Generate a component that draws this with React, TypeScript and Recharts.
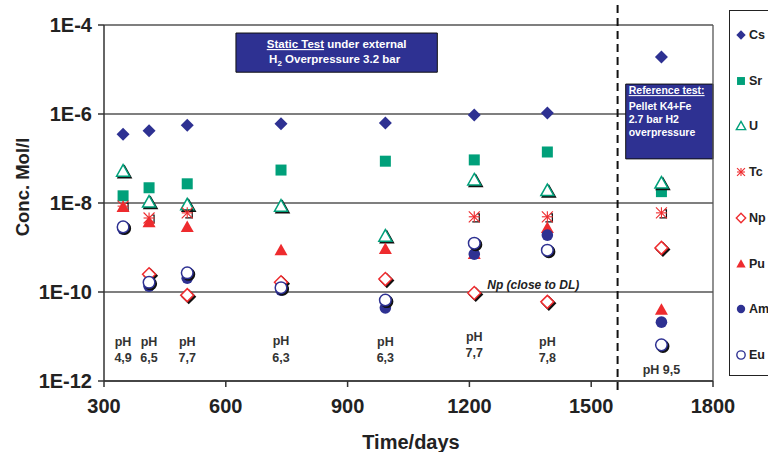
import {
  ScatterChart,
  Scatter,
  XAxis,
  YAxis,
  CartesianGrid,
  ReferenceLine,
  ReferenceArea,
  ReferenceDot,
} from "recharts";

const FONT = "'Liberation Sans', Arial, sans-serif";
const NAVY = "#2e3192";
const TEAL = "#00a07a";
const RED = "#ee2b2e";

// time in days for each sampling
const days = [347, 411, 505, 736, 993, 1212, 1392, 1673];

// concentrations in Mol/l (null = not plotted)
const cs = [3.5e-7, 4.2e-7, 5.6e-7, 6.0e-7, 6.3e-7, 9.5e-7, 1.05e-6, 1.9e-5];
const sr = [1.45e-8, 2.2e-8, 2.7e-8, 5.5e-8, 8.7e-8, 9.3e-8, 1.4e-7, 1.8e-8];
const u = [5.2e-8, 1.05e-8, 9.1e-9, 8.5e-9, 1.8e-9, 3.3e-8, 1.9e-8, 2.8e-8];
const tc = [8.5e-9, 4.6e-9, 6.0e-9, null, null, 4.9e-9, 4.9e-9, 6.0e-9];
const np = [null, 2.5e-10, 8.5e-11, 1.65e-10, 1.95e-10, 9.5e-11, 6.0e-11, 9.8e-10];
const pu = [8.1e-9, 3.7e-9, 2.9e-9, 8.7e-10, 9.3e-10, 7.1e-10, 2.75e-9, 4.0e-11];
const am = [2.6e-9, 1.35e-10, 2.05e-10, 1.1e-10, 4.4e-11, 7.1e-10, 1.9e-9, 2.1e-11];
const eu = [2.9e-9, 1.65e-10, 2.7e-10, 1.25e-10, 6.6e-11, 1.25e-9, 8.7e-10, 6.5e-12];

// pH notes: [day, conc at first text baseline, text lines]
const phNotes: [number, number, string[]][] = [
  [347, 6.2e-12, ["pH", "4,9"]],
  [411, 6.2e-12, ["pH", "6,5"]],
  [505, 6.2e-12, ["pH", "7,7"]],
  [736, 6.4e-12, ["pH", "6,3"]],
  [993, 6.2e-12, ["pH", "6,3"]],
  [1212, 8.0e-12, ["pH", "7,7"]],
  [1392, 6.2e-12, ["pH", "7,8"]],
  [1673, 1.45e-12, ["pH 9,5"]],
];

const xTicks = [300, 600, 900, 1200, 1500, 1800];
const yTicks = [1e-12, 1e-10, 1e-8, 1e-6, 1e-4];

type Kind = "diamond" | "square" | "triangle" | "star" | "circle";

const series: { name: string; values: (number | null)[]; kind: Kind; color: string; open: boolean }[] = [
  { name: "Cs", values: cs, kind: "diamond", color: NAVY, open: false },
  { name: "Sr", values: sr, kind: "square", color: TEAL, open: false },
  { name: "U", values: u, kind: "triangle", color: TEAL, open: true },
  { name: "Tc", values: tc, kind: "star", color: RED, open: true },
  { name: "Np", values: np, kind: "diamond", color: RED, open: true },
  { name: "Pu", values: pu, kind: "triangle", color: RED, open: false },
  { name: "Am", values: am, kind: "circle", color: NAVY, open: false },
  { name: "Eu", values: eu, kind: "circle", color: NAVY, open: true },
];

const shapeEl = (kind: Kind, cx: number, cy: number, fill: string, stroke: string, s = 1) => {
  const sw = 1.5 * Math.min(1, s + 0.2);
  if (kind === "diamond") {
    const r = 6.5 * s;
    return <polygon points={`${cx},${cy - r} ${cx + r},${cy} ${cx},${cy + r} ${cx - r},${cy}`} fill={fill} stroke={stroke} strokeWidth={sw} />;
  }
  if (kind === "square") {
    const h = 5.5 * s;
    return <rect x={cx - h} y={cy - h} width={2 * h} height={2 * h} fill={fill} />;
  }
  if (kind === "triangle") {
    return (
      <polygon
        points={`${cx},${cy - 6.5 * s} ${cx + 6.5 * s},${cy + 5 * s} ${cx - 6.5 * s},${cy + 5 * s}`}
        fill={fill}
        stroke={stroke}
        strokeWidth={sw}
      />
    );
  }
  if (kind === "star") {
    const r = 5.5 * s;
    return (
      <g stroke={stroke} strokeWidth={1.1}>
        <line x1={cx - r} y1={cy - r} x2={cx + r} y2={cy + r} />
        <line x1={cx + r} y1={cy - r} x2={cx - r} y2={cy + r} />
        <line x1={cx} y1={cy - r} x2={cx} y2={cy + r} />
        <line x1={cx - r} y1={cy} x2={cx + r} y2={cy} />
      </g>
    );
  }
  return <circle cx={cx} cy={cy} r={5.8 * s} fill={fill} stroke={stroke} strokeWidth={sw} />;
};

const makeShape = (kind: Kind, color: string, open: boolean, s = 1, shadow = true) => (props: any) => {
  const { cx, cy } = props;
  if (cx == null || cy == null) return <g />;
  const fill = open ? "#fff" : color;
  const stroke = open ? color : "none";
  return (
    <g>
      {open && shadow && kind !== "star" && shapeEl(kind, cx + 1.5, cy + 1.5, "#111", "#111", s)}
      {open && shadow && kind === "star" && (
        <path d={`M${cx + 3},${cy - 3} h2 v${8} h-7`} fill="none" stroke="#111" strokeWidth={1.2} />
      )}
      {shapeEl(kind, cx, cy, fill, stroke, s)}
    </g>
  );
};

const toPoints = (values: (number | null)[]) =>
  days
    .map((d, i) => ({ x: d, y: values[i] }))
    .filter((p) => p.y != null);

const PhLabel = (lines: string[]) => (props: any) => {
  const vb = props.viewBox || {};
  const x = vb.x + (vb.width || 0) / 2;
  const y = vb.y + (vb.height || 0) / 2;
  return (
    <text x={x} y={y} textAnchor="middle" fontFamily={FONT} fontWeight="bold" fontSize={12.5} fill="#333">
      {lines.map((l, i) => (
        <tspan key={i} x={x} dy={i === 0 ? 0 : 16.5}>
          {l}
        </tspan>
      ))}
    </text>
  );
};

const StaticBoxLabel = (props: any) => {
  const { x, y, width } = props.viewBox;
  const cx = x + width / 2;
  return (
    <text x={cx} y={y + 15} textAnchor="middle" fontFamily={FONT} fontWeight="bold" fontSize={11.5} fill="#fff">
      <tspan textDecoration="underline">Static Test</tspan>
      <tspan> under external</tspan>
      <tspan x={cx - 2} dy={15}>H</tspan>
      <tspan fontSize={8} dy={3}>2</tspan>
      <tspan dy={-3}>{"\u00a0Overpressure 3.2 bar"}</tspan>
    </text>
  );
};

const RefBoxLabel = (props: any) => {
  const { x, y } = props.viewBox;
  const lx = x + 3;
  return (
    <text x={lx} y={y + 10} fontFamily={FONT} fontWeight="bold" fontSize={10.5} fill="#fff">
      <tspan textDecoration="underline">Reference test:</tspan>
      <tspan x={lx} dy={16}>Pellet K4+Fe</tspan>
      <tspan x={lx} dy={13}>2.7 bar H2</tspan>
      <tspan x={lx} dy={13}>overpressure</tspan>
    </text>
  );
};

const Legend = () => (
  <div
    style={{
      position: "absolute",
      left: 729,
      top: 10,
      width: 60,
      height: 364,
      border: "1px solid #222",
      background: "#fff",
      fontFamily: FONT,
      fontWeight: "bold",
      fontSize: 12.5,
      color: "#222",
    }}
  >
    {series.map((s, i) => (
      <div key={s.name} style={{ position: "absolute", left: 5, top: 17 + i * 45.7, display: "flex", alignItems: "center" }}>
        <svg width={12} height={14}>
          {makeShape(s.kind, s.color, s.open, 0.72, false)({ cx: 6, cy: 7 })}
        </svg>
        <span style={{ marginLeft: 2 }}>{s.name}</span>
      </div>
    ))}
  </div>
);

const App = () => {
  return (
    <div style={{ position: "absolute", left: 0, top: 0, width: 768, height: 452, background: "#fff", overflow: "hidden" }}>
      <ScatterChart width={768} height={452} margin={{ top: 25, right: 55, left: 24, bottom: 31 }}>
        <CartesianGrid vertical={false} stroke="#555" strokeWidth={1.3} />
        <XAxis
          type="number"
          dataKey="x"
          domain={[300, 1800]}
          ticks={xTicks}
          height={40}
          tickSize={6}
          tickMargin={12}
          stroke="#333"
          strokeWidth={1.5}
          tick={{ fontFamily: FONT, fontWeight: "bold", fontSize: 20, fill: "#222" }}
          allowDataOverflow
          label={() => (
            <text x={411} y={449} textAnchor="middle" fontFamily={FONT} fontWeight="bold" fontSize={20} fill="#222">
              Time/days
            </text>
          )}
        />
        <YAxis
          type="number"
          dataKey="y"
          scale="log"
          domain={[1e-12, 1e-4]}
          ticks={yTicks}
          allowDataOverflow
          width={80}
          tickSize={6}
          tickMargin={6}
          stroke="#333"
          strokeWidth={1.5}
          tickFormatter={(v: number) => `1E${Math.round(Math.log10(v))}`}
          tick={{ fontFamily: FONT, fontWeight: "bold", fontSize: 20, fill: "#222" }}
          label={() => (
            <text
              x={29}
              y={187}
              transform="rotate(-90 29 187)"
              textAnchor="middle"
              fontFamily={FONT}
              fontWeight="bold"
              fontSize={18.5}
              fill="#222"
            >
              Conc. Mol/l
            </text>
          )}
        />
        <ReferenceLine x={1800} stroke="#555" strokeWidth={1.3} />
        <ReferenceArea
          x1={625}
          x2={1121}
          y1={8.7e-6}
          y2={6.6e-5}
          fill={NAVY}
          fillOpacity={1}
          stroke="#111"
          strokeWidth={1}
          label={StaticBoxLabel}
        />
        <ReferenceArea
          x1={1585}
          x2={1800}
          y1={9.8e-8}
          y2={4.7e-6}
          fill={NAVY}
          fillOpacity={1}
          stroke="#111"
          strokeWidth={1}
          label={RefBoxLabel}
        />
        <ReferenceLine
          segment={[
            { x: 1565, y: 2.8e-4 },
            { x: 1565, y: 4.9e-13 },
          ]}
          ifOverflow="visible"
          stroke="#111"
          strokeWidth={2}
          strokeDasharray="8 5"
        />
        {phNotes.map(([d, c, lines], i) => (
          <ReferenceDot key={i} x={d} y={c} r={0} fill="none" stroke="none" label={PhLabel(lines)} />
        ))}
        <ReferenceDot
          x={1244}
          y={1.17e-10}
          r={0}
          fill="none"
          stroke="none"
          label={(p: any) => (
            <text
              x={p.viewBox.x}
              y={p.viewBox.y}
              fontFamily={FONT}
              fontWeight="bold"
              fontStyle="italic"
              fontSize={12}
              fill="#222"
            >
              Np (close to DL)
            </text>
          )}
        />
        {series.map((s) => (
          <Scatter
            key={s.name}
            name={s.name}
            data={toPoints(s.values)}
            shape={makeShape(s.kind, s.color, s.open)}
            isAnimationActive={false}
          />
        ))}
      </ScatterChart>
      <Legend />
    </div>
  );
};

export default App;
